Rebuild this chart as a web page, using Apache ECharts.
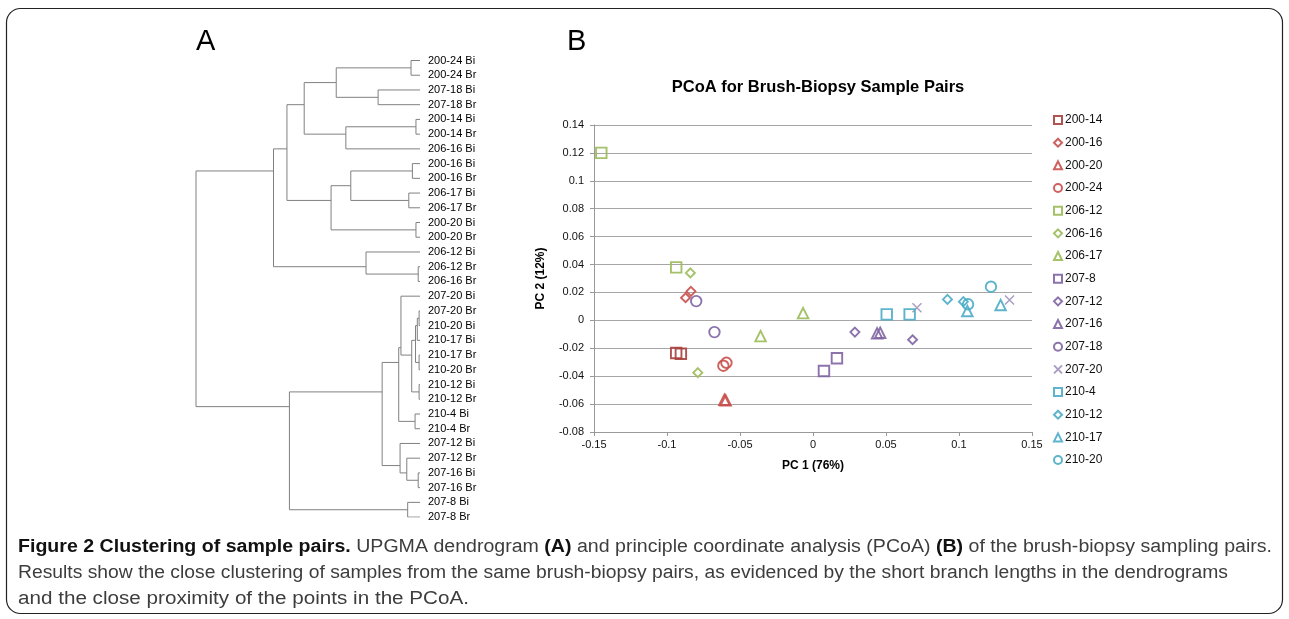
<!DOCTYPE html>
<html><head><meta charset="utf-8">
<script src="https://cdn.jsdelivr.net/npm/echarts@6/dist/echarts.min.js"></script>
<style>html,body{margin:0;padding:0;background:#fff;}#c{width:1289px;height:619px;}</style>
</head><body><div id="c"></div>
<script>
// ---------- Dendrogram data (A) ----------
const leaves = ['200-24 Bi','200-24 Br','207-18 Bi','207-18 Br','200-14 Bi','200-14 Br','206-16 Bi',
  '200-16 Bi','200-16 Br','206-17 Bi','206-17 Br','200-20 Bi','200-20 Br','206-12 Bi','206-12 Br','206-16 Br',
  '207-20 Bi','207-20 Br','210-20 Bi','210-17 Bi','210-17 Br','210-20 Br','210-12 Bi','210-12 Br',
  '210-4 Bi','210-4 Br','207-12 Bi','207-12 Br','207-16 Bi','207-16 Br','207-8 Bi','207-8 Br'];
// merges: [childA, childB, height]; leaf i -> i, merge k -> leaves.length + k
const merges = [
  [0,1,0.040],[2,3,0.187],[32,33,0.374],[4,5,0.018],[35,6,0.331],[34,36,0.517],
  [7,8,0.034],[9,10,0.050],[38,39,0.309],[11,12,0.018],[40,41,0.397],[37,42,0.594],
  [14,15,0.008],[13,44,0.241],[43,45,0.654],
  [17,18,0.004],[47,19,0.012],[20,21,0.004],[48,49,0.020],[22,23,0.004],[50,51,0.037],
  [16,52,0.085],[24,25,0.022],[53,54,0.095],
  [28,29,0.008],[27,56,0.059],[26,57,0.089],[55,58,0.169],
  [30,31,0.055],[59,60,0.583],[46,61,1.0]
];

// ---------- PCoA data (B) ----------
const groups = ['200-14','200-16','200-20','200-24','206-12','206-16','206-17','207-8',
  '207-12','207-16','207-18','207-20','210-4','210-12','210-17','210-20'];
const p200_14 = [[-0.0937,-0.0234],[-0.0905,-0.0239]];
const p200_16 = [[-0.0836,0.0208],[-0.0873,0.0162]];
const p200_20 = [[-0.0607,-0.0569],[-0.0598,-0.0573]];
const p200_24 = [[-0.0614,-0.0325],[-0.0593,-0.0304]];
const p206_12 = [[-0.1450,0.1200],[-0.0937,0.0380]];
const p206_16 = [[-0.0840,0.0340],[-0.0789,-0.0375]];
const p206_17 = [[-0.0359,-0.0113],[-0.0068,0.0052]];
const p207_8  = [[0.0075,-0.0363],[0.0164,-0.0272]];
const p207_12 = [[0.0287,-0.0084],[0.0682,-0.0139]];
const p207_16 = [[0.0439,-0.0093],[0.0460,-0.0089]];
const p207_18 = [[-0.0800,0.0138],[-0.0675,-0.0084]];
const p207_20 = [[0.0712,0.0090],[0.1346,0.0146]];
const p210_4  = [[0.0505,0.0043],[0.0662,0.0043]];
const p210_12 = [[0.0921,0.0150],[0.1030,0.0134]];
const p210_17 = [[0.1057,0.0067],[0.1285,0.0110]];
const p210_20 = [[0.1062,0.0115],[0.1219,0.0241]];
const groupPoints = [p200_14,p200_16,p200_20,p200_24,p206_12,p206_16,p206_17,p207_8,
  p207_12,p207_16,p207_18,p207_20,p210_4,p210_12,p210_17,p210_20];

// ---------- styles ----------
const XPATH = 'path://M0,0L10,10M10,0L0,10';
const RED='#c9504c', RED2='#a8403d', GREEN='#9bbb59', PURPLE='#8064a2', PURPLE2='#a293bd', CYAN='#4bacc6';
const groupStyle = [
  ['rect',RED2],['diamond',RED],['triangle',RED],['circle',RED],
  ['rect',GREEN],['diamond',GREEN],['triangle',GREEN],
  ['rect',PURPLE],['diamond',PURPLE],['triangle',PURPLE],['circle',PURPLE],[XPATH,PURPLE2],
  ['rect',CYAN],['diamond',CYAN],['triangle',CYAN],['circle',CYAN]
];
const symSize = {rect:10.5, diamond:9, triangle:10.5, circle:10.5};
const FONT = '"Liberation Sans", Arial, sans-serif';

// ---------- build dendrogram segments ----------
const nL = leaves.length;
const nH = [], nY = [], nC = [];
for (let i=0;i<nL;i++){nH[i]=0;nY[i]=i;nC[i]=1;}
const segs = [];
merges.forEach(([a,b,h],k)=>{
  const id = nL+k;
  nH[id]=h; nC[id]=nC[a]+nC[b];
  nY[id]=(nY[a]*nC[a]+nY[b]*nC[b])/nC[id];
  segs.push({coords:[[nH[a],nY[a]],[h,nY[a]],[h,nY[b]],[nH[b],nY[b]]]});
});

// ---------- scatter series ----------
const series = groups.map((g,i)=>{
  const [sym,col] = groupStyle[i];
  const isX = sym===XPATH;
  return {
    name:g, type:'scatter', xAxisIndex:0, yAxisIndex:0,
    symbol:sym, symbolSize: isX?9:symSize[sym],
    itemStyle:{color:'rgba(255,255,255,0)', borderColor:col, borderWidth:isX?1.5:1.9, opacity:0.9},
    emphasis:{disabled:true},
    data: groupPoints[i]
  };
});
series.push({
  type:'lines', coordinateSystem:'cartesian2d', xAxisIndex:1, yAxisIndex:1, polyline:true,
  silent:true, lineStyle:{color:'#808080', width:1, opacity:1}, data:segs
});

// ---------- caption ----------
const CAP_FONT = '"Liberation Sans Narrow","Liberation Sans",sans-serif';
const CAP_SIZE = 18;
const capLines = [
  {y:547, right:1272, segs:[['Figure 2 Clustering of sample pairs.',true],[' UPGMA dendrogram ',false],['(A)',true],
    [' and principle coordinate analysis (PCoA) ',false],['(B)',true],[' of the brush-biopsy sampling pairs.',false]]},
  {y:573, right:1228, segs:[['Results show the close clustering of samples from the same brush-biopsy pairs, as evidenced by the short branch lengths in the dendrograms',false]]},
  {y:599, right:469, segs:[['and the close proximity of the points in the PCoA.',false]]}
];
const ctx = document.createElement('canvas').getContext('2d');
function tw(t,b){ctx.font=(b?'bold ':'')+CAP_SIZE+'px '+CAP_FONT;return ctx.measureText(t).width;}
const graphics = [];
capLines.forEach(L=>{
  const total = L.segs.reduce((s,[t,b])=>s+tw(t,b),0);
  const sc = (L.right-18)/total;
  let cx = 18;
  L.segs.forEach(([t,b])=>{
    graphics.push({type:'text', x:cx, y:L.y, scaleX:sc, silent:true,
      style:{text:t, fontSize:CAP_SIZE, fontFamily:CAP_FONT, fontWeight:b?'bold':'normal',
        fill:b?'#111':'#3d3d3d', verticalAlign:'middle', align:'left'}});
    cx += tw(t,b)*sc;
  });
});
graphics.push(
  {type:'rect', silent:true, shape:{x:6.5,y:8.5,width:1276,height:605,r:14}, style:{fill:'none',stroke:'#222',lineWidth:1.2}},
  {type:'text', x:196, y:42, silent:true, style:{text:'A', fontSize:29, fontFamily:FONT, fill:'#000', verticalAlign:'middle'}},
  {type:'text', x:567, y:42, silent:true, style:{text:'B', fontSize:29, fontFamily:FONT, fill:'#000', verticalAlign:'middle'}},
  {type:'text', x:818, y:87, silent:true, style:{text:'PCoA for Brush-Biopsy Sample Pairs', fontSize:16.5, fontWeight:'bold', fontFamily:FONT, fill:'#000', align:'center', verticalAlign:'middle'}}
);

const chart = echarts.init(document.getElementById('c'), null, {renderer:'canvas'});
chart.setOption({
  animation:false,
  backgroundColor:'#fff',
  textStyle:{fontFamily:FONT},
  grid:[
    {left:594, top:125, width:438, height:307},
    {left:196, top:60.5, width:224, height:456.6}
  ],
  xAxis:[
    {type:'value', gridIndex:0, min:-0.15, max:0.15, interval:0.05,
     name:'PC 1 (76%)', nameLocation:'middle', nameGap:28,
     nameTextStyle:{fontSize:12, fontWeight:'bold', color:'#000', fontFamily:FONT},
     axisLine:{show:true, onZero:false, lineStyle:{color:'#999', width:1}},
     axisTick:{show:true, length:4, lineStyle:{color:'#999'}},
     axisLabel:{fontSize:11, color:'#111', margin:7, formatter:v=>String(+v.toFixed(2))},
     splitLine:{show:false}},
    {type:'value', gridIndex:1, min:0, max:1, inverse:true, show:false}
  ],
  yAxis:[
    {type:'value', gridIndex:0, min:-0.08, max:0.14, interval:0.02,
     name:'PC 2 (12%)', nameLocation:'middle', nameGap:47,
     nameTextStyle:{fontSize:12, fontWeight:'bold', color:'#000', fontFamily:FONT},
     axisLine:{show:true, onZero:false, lineStyle:{color:'#999', width:1}},
     axisTick:{show:true, length:4, lineStyle:{color:'#999'}},
     axisLabel:{fontSize:11, color:'#111', margin:10, formatter:v=>String(+v.toFixed(2))},
     splitLine:{show:true, lineStyle:{color:'#a6a6a6', width:1.2}}},
    {type:'value', gridIndex:1, min:0, max:nL-1, inverse:true, show:false},
    {type:'category', gridIndex:1, data:leaves, boundaryGap:false, inverse:true, position:'right',
     axisLine:{show:false}, axisTick:{show:false}, splitLine:{show:false},
     axisLabel:{fontSize:11, color:'#000', margin:8, fontFamily:FONT, interval:0}}
  ],
  legend:{
    orient:'vertical', left:1053, top:114, padding:0,
    itemWidth:8, itemHeight:8, itemGap:10.67,
    data:groups, selectedMode:false,
    textStyle:{fontSize:12, color:'#111', lineHeight:12, padding:[0,0,0,-2], fontFamily:FONT}
  },
  graphic:graphics,
  series:series
});
</script></body></html>
